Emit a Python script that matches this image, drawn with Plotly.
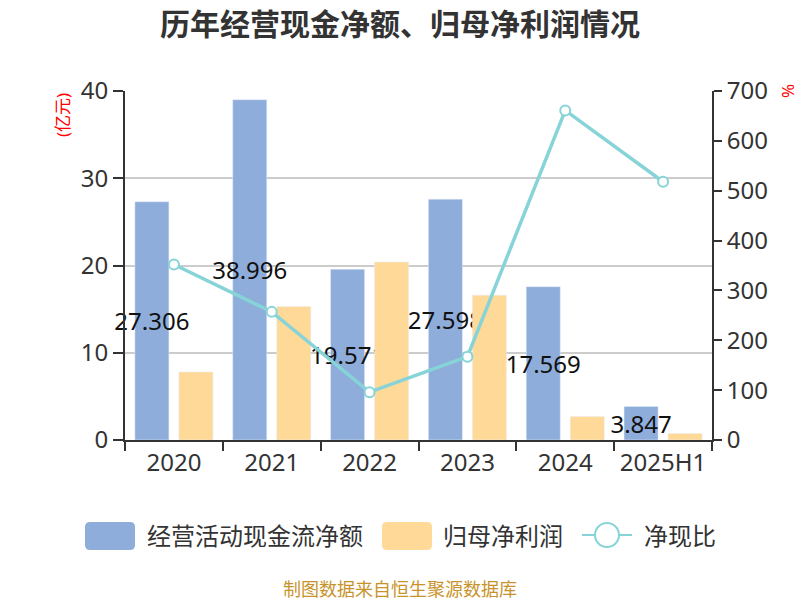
import plotly.graph_objects as go

categories = ["2020", "2021", "2022", "2023", "2024", "2025H1"]
cash_flow = [27.306, 38.996, 19.571, 27.598, 17.569, 3.847]
net_profit = [7.8, 15.3, 20.4, 16.6, 2.7, 0.75]
ratio = [352, 257, 96, 167, 661, 518]
cash_labels = ["27.306", "38.996", "19.571", "27.598", "17.569", "3.847"]
series_names = ["经营活动现金流净额", "归母净利润", "净现比"]

FONT = "Noto Sans, Noto Sans CJK SC"
BLUE = "#8eaddb"
ORANGE = "#ffd998"
TEAL = "#86d4d7"

# plot-area geometry in pixels (for layout helpers)
L, R, T, B = 125, 712, 91, 440
W, H = R - L, B - T


def px(x):
    return (x - L) / W


def py(y):
    return (B - y) / H


def rounded_rect(x0, y0, x1, y1, r):
    X = lambda v: px(v)
    Y = lambda v: py(v)
    return (f"M {X(x0 + r)},{Y(y0)} L {X(x1 - r)},{Y(y0)} Q {X(x1)},{Y(y0)} {X(x1)},{Y(y0 + r)} "
            f"L {X(x1)},{Y(y1 - r)} Q {X(x1)},{Y(y1)} {X(x1 - r)},{Y(y1)} "
            f"L {X(x0 + r)},{Y(y1)} Q {X(x0)},{Y(y1)} {X(x0)},{Y(y1 - r)} "
            f"L {X(x0)},{Y(y0 + r)} Q {X(x0)},{Y(y0)} {X(x0 + r)},{Y(y0)} Z")


fig = go.Figure()
fig.add_trace(go.Bar(
    x=categories, y=cash_flow, name=series_names[0],
    marker=dict(color=BLUE),
    text=cash_labels, textposition="inside", insidetextanchor="middle",
    constraintext="none", textangle=0, cliponaxis=False,
    textfont=dict(color="#111111", size=24, family=FONT),
))
fig.add_trace(go.Bar(
    x=categories, y=net_profit, name=series_names[1],
    marker=dict(color=ORANGE),
))
fig.add_trace(go.Scatter(
    x=categories, y=ratio, name=series_names[2], yaxis="y2",
    mode="lines+markers",
    line=dict(color=TEAL, width=3.5),
    marker=dict(symbol="circle", size=10, color="white", line=dict(color=TEAL, width=2)),
))

legend_y = 535
shapes = [
    dict(type="path", xref="paper", yref="paper", path=rounded_rect(85, 522, 135, 550, 5),
         fillcolor=BLUE, line=dict(width=0)),
    dict(type="path", xref="paper", yref="paper", path=rounded_rect(382, 522, 432, 550, 5),
         fillcolor=ORANGE, line=dict(width=0)),
    dict(type="line", xref="paper", yref="paper", x0=px(582), x1=px(632), y0=py(legend_y), y1=py(legend_y),
         line=dict(color=TEAL, width=2)),
    dict(type="circle", xref="paper", yref="paper", x0=px(595), x1=px(619),
         y0=py(legend_y + 12), y1=py(legend_y - 12), fillcolor="white", line=dict(color=TEAL, width=2)),
]

annotations = [
    dict(text=series_names[0], xref="paper", yref="paper", x=px(145), y=py(legend_y),
         xanchor="left", yanchor="middle", showarrow=False, font=dict(size=24, color="#333333")),
    dict(text=series_names[1], xref="paper", yref="paper", x=px(441), y=py(legend_y),
         xanchor="left", yanchor="middle", showarrow=False, font=dict(size=24, color="#333333")),
    dict(text=series_names[2], xref="paper", yref="paper", x=px(642), y=py(legend_y),
         xanchor="left", yanchor="middle", showarrow=False, font=dict(size=24, color="#333333")),
    dict(text="(亿元)", xref="paper", yref="paper", x=px(63), y=py(115), xanchor="center",
         yanchor="middle", showarrow=False, textangle=-90, font=dict(size=17, color="#ff0000")),
    dict(text="%", xref="paper", yref="paper", x=px(787), y=py(91), xanchor="center",
         yanchor="middle", showarrow=False, textangle=-90, font=dict(size=17, color="#ff0000")),
    dict(text="制图数据来自恒生聚源数据库", xref="paper", yref="paper", x=px(400), y=py(588),
         xanchor="center", yanchor="middle", showarrow=False,
         font=dict(size=18, color="#c9932b", family="Noto Sans CJK SC")),
]

fig.update_layout(
    width=800, height=600,
    margin=dict(l=L, r=800 - R, t=T, b=600 - B),
    paper_bgcolor="white", plot_bgcolor="white",
    font=dict(family=FONT, color="#333333", size=24),
    bargap=0.1, bargroupgap=0.227,
    showlegend=False,
    title=dict(text="<b>历年经营现金净额、归母净利润情况</b>", x=0.5, xanchor="center",
               y=1 - 24 / 600, yanchor="middle",
               font=dict(size=30, color="#333333", family="Noto Sans CJK SC")),
    xaxis=dict(type="category", showline=True, linecolor="#333333", linewidth=2,
               ticks="outside", ticklen=9, tickcolor="#333333", tickwidth=2,
               tickson="boundaries", showgrid=False, tickfont=dict(size=24)),
    yaxis=dict(range=[0, 40], tickvals=[0, 10, 20, 30, 40], showline=True, linecolor="#333333",
               linewidth=2, ticks="outside", ticklen=10, tickcolor="#333333", tickwidth=2,
               showgrid=True, gridcolor="#cccccc", gridwidth=1.5, zeroline=False,
               tickfont=dict(size=24)),
    yaxis2=dict(range=[0, 700], tickvals=[0, 100, 200, 300, 400, 500, 600, 700],
                overlaying="y", side="right", showline=True, linecolor="#333333",
                linewidth=2, ticks="outside", ticklen=8, tickcolor="#333333", tickwidth=2,
                showgrid=False, zeroline=False, tickfont=dict(size=24)),
    shapes=shapes,
    annotations=annotations,
)

fig.write_html("out.html")
